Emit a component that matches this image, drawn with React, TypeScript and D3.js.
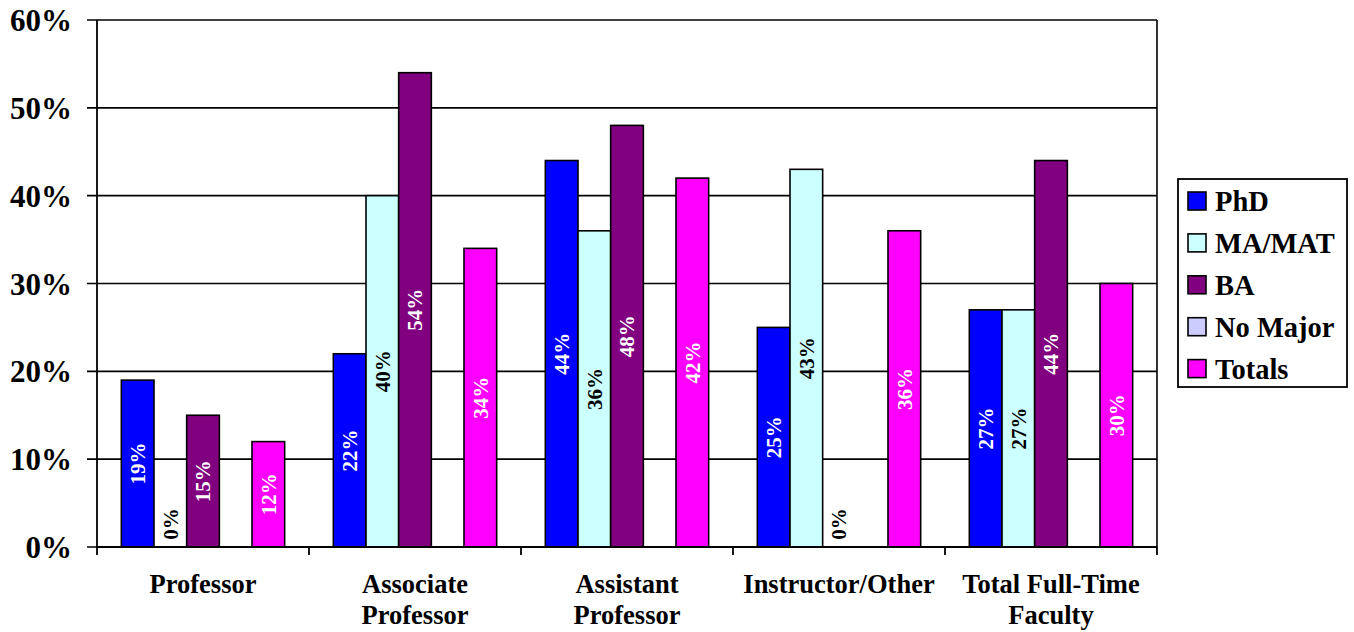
import React from "react";
import * as d3 from "d3";

const categories = [
  ["Professor"],
  ["Associate", "Professor"],
  ["Assistant", "Professor"],
  ["Instructor/Other"],
  ["Total Full-Time", "Faculty"],
];
const seriesNames = ["PhD", "MA/MAT", "BA", "No Major", "Totals"];
const seriesColors = ["#0000FF", "#CCFFFF", "#800080", "#CCCCFF", "#FF00FF"];
const labelColors = ["#FFFFFF", "#000000", "#FFFFFF", "#000000", "#FFFFFF"];
const phd = [19, 22, 44, 25, 27];
const maMat = [0, 40, 36, 43, 27];
const ba = [15, 54, 48, 0, 44];
const noMajor: (number | null)[] = [null, null, null, null, null];
const totals = [12, 34, 42, 36, 30];
const yTicks = [0, 10, 20, 30, 40, 50, 60];

const seriesValues: (number | null)[][] = [phd, maMat, ba, noMajor, totals];

const W = 1354;
const H = 632;
const left = 97;
const right = 1157;
const top = 20;
const bottom = 547;
const font = "'Liberation Serif', 'Times New Roman', serif";

export default function App() {
  const x0 = d3
    .scaleBand<number>()
    .domain(categories.map((_, i) => i))
    .range([left, right])
    .paddingInner(0)
    .paddingOuter(0);
  const x1 = d3
    .scaleBand<number>()
    .domain(seriesNames.map((_, i) => i))
    .range([0, x0.bandwidth()])
    .paddingOuter(0.745)
    .paddingInner(0);
  const y = d3.scaleLinear().domain([0, 60]).range([bottom, top]);

  return (
    <svg
      width={W}
      height={H}
      style={{ position: "absolute", left: 0, top: 0, background: "#fff" }}
      fontFamily={font}
    >
      {yTicks.map((t) => (
        <line
          key={"g" + t}
          x1={left - 10}
          x2={right}
          y1={y(t)}
          y2={y(t)}
          stroke="#000"
          strokeWidth={1.6}
        />
      ))}
      <line x1={right} x2={right} y1={top} y2={bottom} stroke="#000" strokeWidth={1.6} />
      {categories.map((_, ci) =>
        seriesValues.map((vals, si) => {
          const v = vals[ci];
          if (v === null || v === 0) return null;
          const bx = (x0(ci) as number) + (x1(si) as number);
          return (
            <rect
              key={`b${ci}-${si}`}
              x={bx}
              y={y(v)}
              width={x1.bandwidth()}
              height={y(0) - y(v)}
              fill={seriesColors[si]}
              stroke="#000"
              strokeWidth={1.6}
            />
          );
        })
      )}
      <line x1={left} x2={left} y1={top} y2={bottom + 8} stroke="#000" strokeWidth={1.8} />
      <line x1={left} x2={right} y1={bottom} y2={bottom} stroke="#000" strokeWidth={1.8} />
      {categories.map((_, ci) => (
        <line
          key={"t" + ci}
          x1={(x0(ci) as number) + x0.bandwidth()}
          x2={(x0(ci) as number) + x0.bandwidth()}
          y1={bottom}
          y2={bottom + 8}
          stroke="#000"
          strokeWidth={1.8}
        />
      ))}
      {yTicks.map((t) => (
        <text
          key={"yl" + t}
          x={72}
          y={y(t) + 11}
          textAnchor="end"
          fontSize={31}
          fontWeight="bold"
        >
          {t + "%"}
        </text>
      ))}
      {categories.map((lines, ci) => (
        <text
          key={"c" + ci}
          x={(x0(ci) as number) + x0.bandwidth() / 2}
          textAnchor="middle"
          fontSize={26.5}
          fontWeight="bold"
        >
          {lines.map((l, li) => (
            <tspan key={li} x={(x0(ci) as number) + x0.bandwidth() / 2} y={593 + li * 31}>
              {l}
            </tspan>
          ))}
        </text>
      ))}
      {categories.map((_, ci) =>
        seriesValues.map((vals, si) => {
          const v = vals[ci];
          if (v === null) return null;
          const cx = (x0(ci) as number) + (x1(si) as number) + x1.bandwidth() / 2;
          const cy = v === 0 ? y(0) - 23 : (y(v) + y(0)) / 2;
          return (
            <text
              key={`l${ci}-${si}`}
              transform={`translate(${cx},${cy}) rotate(-90)`}
              textAnchor="middle"
              dy="0.35em"
              fontSize={21}
              fontWeight="bold"
              fill={v === 0 ? "#000" : labelColors[si]}
            >
              {v + "%"}
            </text>
          );
        })
      )}
      <rect x={1178} y={179} width={169} height={208} fill="#fff" stroke="#000" strokeWidth={1.8} />
      {seriesNames.map((n, i) => {
        const cy = 201 + i * 41.9;
        return (
          <g key={"lg" + i}>
            <rect x={1188} y={cy - 9} width={18} height={18} fill={seriesColors[i]} stroke="#000" strokeWidth={1.6} />
            <text x={1215} y={cy + 10} fontSize={28.5} fontWeight="bold">
              {n}
            </text>
          </g>
        );
      })}
    </svg>
  );
}
